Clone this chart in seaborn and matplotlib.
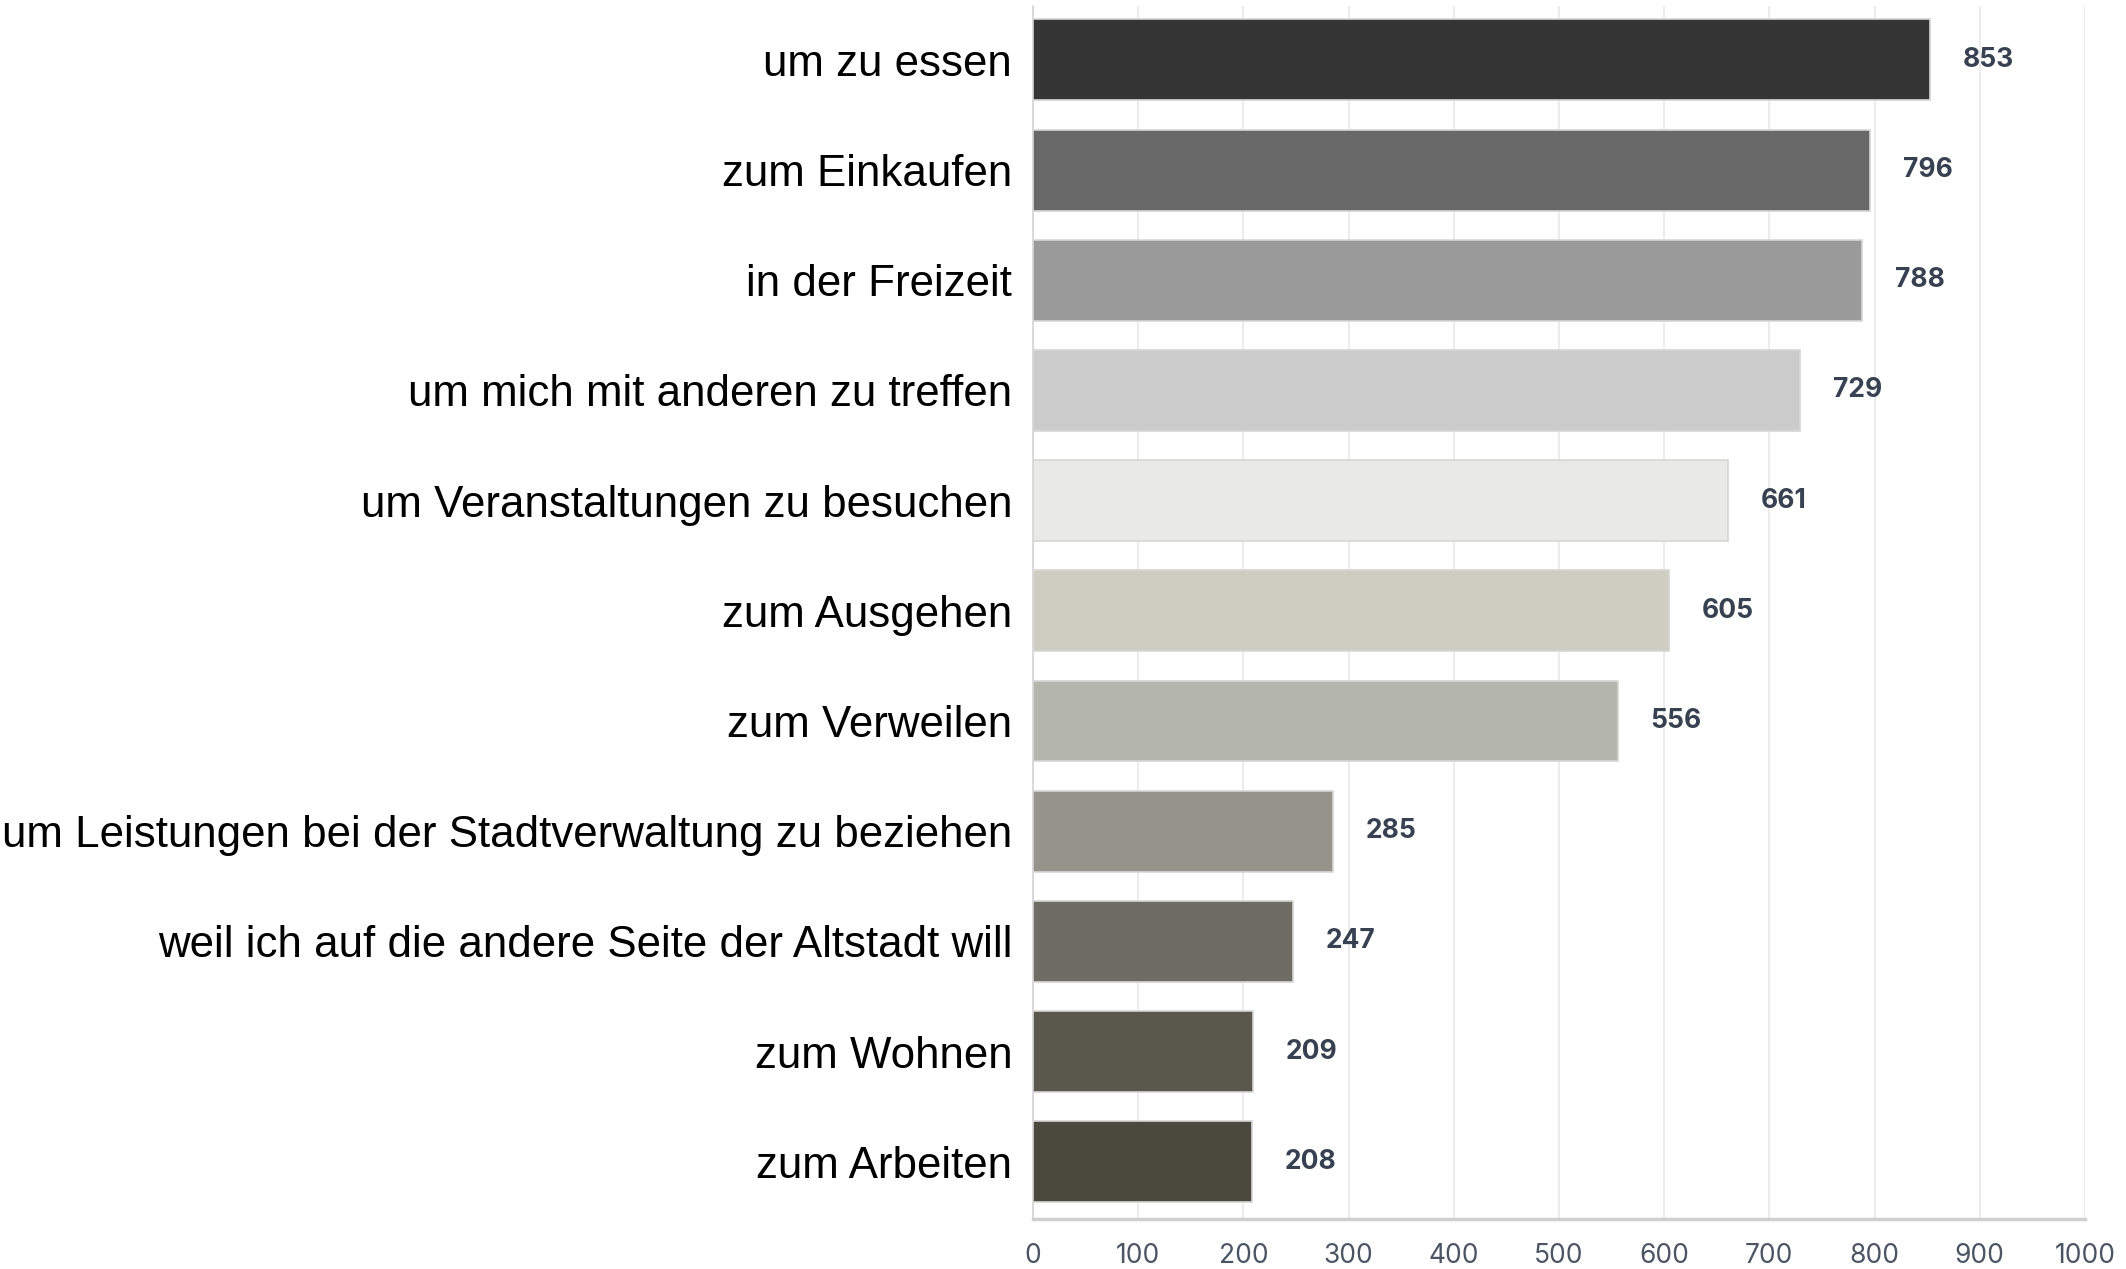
import pandas as pd
import seaborn as sns
import matplotlib.pyplot as plt

# Data
categories = [
    "um zu essen",
    "zum Einkaufen",
    "in der Freizeit",
    "um mich mit anderen zu treffen",
    "um Veranstaltungen zu besuchen",
    "zum Ausgehen",
    "zum Verweilen",
    "um Leistungen bei der Stadtverwaltung zu beziehen",
    "weil ich auf die andere Seite der Altstadt will",
    "zum Wohnen",
    "zum Arbeiten",
]
counts = [853, 796, 788, 729, 661, 605, 556, 285, 247, 209, 208]
bar_colors = [
    "#353535", "#686868", "#9a9a9a", "#cbcbcb", "#e9e9e7", "#d0cfc0",
    "#b5b7a9", "#959589", "#6e6e63", "#5c5a4a", "#4c4a3c",
]
xticks = list(range(0, 1001, 100))

df = pd.DataFrame({"Kategorie": categories, "Anzahl": counts})

sns.set_style("white")

fig = plt.figure(figsize=(21.26, 12.69), dpi=100)
ax = fig.add_axes([0.4859, 0.0394, 0.9807 - 0.4859, 0.9953 - 0.0394])

sns.barplot(data=df, x="Anzahl", y="Kategorie", hue="Kategorie",
            palette=bar_colors, legend=False, width=0.735,
            edgecolor="#d6d6d6", linewidth=1.2, ax=ax, zorder=3)

# value labels
for i, v in enumerate(counts):
    ax.text(v + 31, i, str(v), va="center", ha="left", fontsize=19,
            fontfamily="Inter", fontweight="bold", color="#374151")

ax.set_xlim(0, 1000)
ax.set_ylim(10.52, -0.49)
ax.set_xticks(xticks)
ax.set_xticklabels([str(t) for t in xticks], fontfamily="Inter",
                   fontsize=19, color="#4b5563")
ax.set_yticks(range(len(categories)))
ax.set_yticklabels(categories, fontfamily="Liberation Sans", fontsize=31.6,
                   color="black")
ax.tick_params(axis="x", length=0, pad=17)
ax.tick_params(axis="y", length=0, pad=15)
ax.set_xlabel("")
ax.set_ylabel("")

ax.grid(axis="x", color="#ececec", linewidth=1.5, zorder=0)
ax.set_axisbelow(True)
for side in ["top", "right"]:
    ax.spines[side].set_visible(False)
ax.spines["bottom"].set_color("#cfcfcf")
ax.spines["bottom"].set_linewidth(2.5)
ax.spines["left"].set_color("#d4d4d4")
ax.spines["left"].set_linewidth(1.2)

fig.savefig("out.png", dpi=100)
